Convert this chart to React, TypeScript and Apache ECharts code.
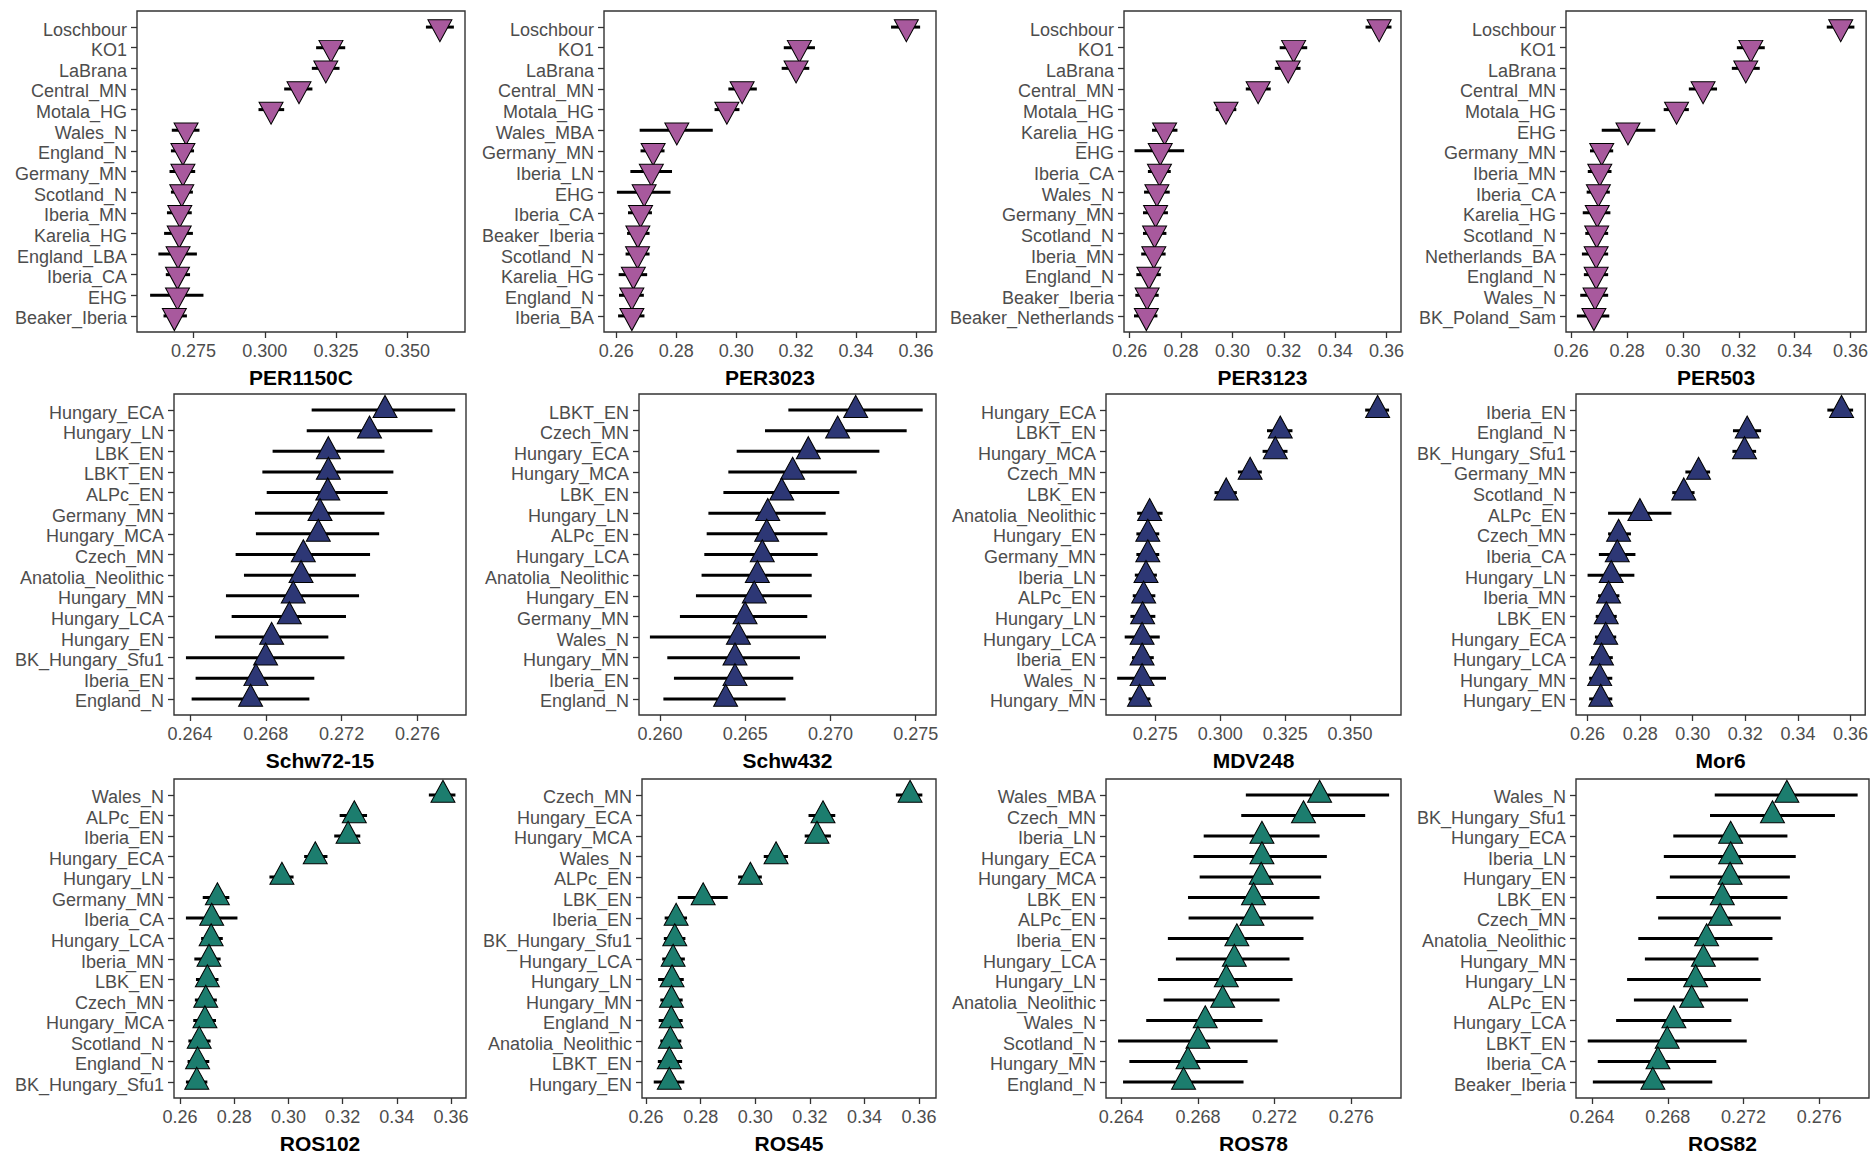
import React, { useEffect, useRef } from "react";
import * as echarts from "echarts";

// ---------- DATA ----------
const per1150cGroups = ["Loschbour","KO1","LaBrana","Central_MN","Motala_HG","Wales_N","England_N","Germany_MN","Scotland_N","Iberia_MN","Karelia_HG","England_LBA","Iberia_CA","EHG","Beaker_Iberia"];
const per1150cMean = [0.3614,0.3232,0.3214,0.3120,0.3022,0.2724,0.2713,0.2713,0.2709,0.2702,0.2700,0.2696,0.2694,0.2694,0.2683];
const per1150cLow = [0.3565,0.3180,0.3165,0.3068,0.2978,0.2674,0.2671,0.2666,0.2671,0.2657,0.2647,0.2627,0.2653,0.2598,0.2645];
const per1150cHigh = [0.3663,0.3282,0.3262,0.3167,0.3068,0.2771,0.2752,0.2756,0.2748,0.2744,0.2748,0.2762,0.2738,0.2785,0.2727];

const per3023Groups = ["Loschbour","KO1","LaBrana","Central_MN","Motala_HG","Wales_MBA","Germany_MN","Iberia_LN","EHG","Iberia_CA","Beaker_Iberia","Scotland_N","Karelia_HG","England_N","Iberia_BA"];
const per3023Mean = [0.3568,0.3211,0.3200,0.3020,0.2969,0.2802,0.2723,0.2717,0.2693,0.2681,0.2672,0.2671,0.2657,0.2652,0.2652];
const per3023Low = [0.3517,0.3159,0.3152,0.2974,0.2928,0.2678,0.2681,0.2647,0.2602,0.2639,0.2636,0.2631,0.2608,0.2609,0.2606];
const per3023High = [0.3614,0.3263,0.3244,0.3069,0.3011,0.2922,0.2761,0.2786,0.2781,0.2719,0.2711,0.2711,0.2703,0.2692,0.2694];

const per3123Groups = ["Loschbour","KO1","LaBrana","Central_MN","Motala_HG","Karelia_HG","EHG","Iberia_CA","Wales_N","Germany_MN","Scotland_N","Iberia_MN","England_N","Beaker_Iberia","Beaker_Netherlands"];
const per3123Mean = [0.3571,0.3238,0.3217,0.3100,0.2975,0.2736,0.2719,0.2716,0.2706,0.2701,0.2697,0.2694,0.2675,0.2668,0.2665];
const per3123Low = [0.3518,0.3184,0.3165,0.3052,0.2935,0.2687,0.2619,0.2671,0.2656,0.2652,0.2652,0.2645,0.2626,0.2622,0.2617];
const per3123High = [0.3619,0.3291,0.3265,0.3149,0.3015,0.2786,0.2812,0.2760,0.2756,0.2749,0.2743,0.2740,0.2721,0.2713,0.2708];

const per503Groups = ["Loschbour","KO1","LaBrana","Central_MN","Motala_HG","EHG","Germany_MN","Iberia_MN","Iberia_CA","Karelia_HG","Scotland_N","Netherlands_BA","England_N","Wales_N","BK_Poland_Sam"];
const per503Mean = [0.3565,0.3243,0.3225,0.3072,0.2977,0.2803,0.2709,0.2702,0.2697,0.2693,0.2691,0.2689,0.2689,0.2685,0.2681];
const per503Low = [0.3515,0.3193,0.3175,0.3021,0.2931,0.2709,0.2667,0.2659,0.2655,0.2641,0.2650,0.2638,0.2645,0.2632,0.2620];
const per503High = [0.3614,0.3293,0.3275,0.3122,0.3021,0.2901,0.2750,0.2744,0.2738,0.2740,0.2732,0.2732,0.2732,0.2732,0.2736];

const schw7215Groups = ["Hungary_ECA","Hungary_LN","LBK_EN","LBKT_EN","ALPc_EN","Germany_MN","Hungary_MCA","Czech_MN","Anatolia_Neolithic","Hungary_MN","Hungary_LCA","Hungary_EN","BK_Hungary_Sfu1","Iberia_EN","England_N"];
const schw7215Mean = [0.27429,0.27347,0.27130,0.27130,0.27127,0.27086,0.27077,0.26998,0.26986,0.26945,0.26924,0.26831,0.26799,0.26748,0.26720];
const schw7215Low = [0.27042,0.27016,0.26836,0.26782,0.26805,0.26743,0.26748,0.26641,0.26685,0.26590,0.26620,0.26532,0.26379,0.26430,0.26409];
const schw7215High = [0.27799,0.27679,0.27426,0.27473,0.27443,0.27426,0.27398,0.27350,0.27275,0.27292,0.27223,0.27130,0.27215,0.27056,0.27030];

const schw432Groups = ["LBKT_EN","Czech_MN","Hungary_ECA","Hungary_MCA","LBK_EN","Hungary_LN","ALPc_EN","Hungary_LCA","Anatolia_Neolithic","Hungary_EN","Germany_MN","Wales_N","Hungary_MN","Iberia_EN","England_N"];
const schw432Mean = [0.27148,0.27042,0.26870,0.26778,0.26714,0.26632,0.26626,0.26600,0.26571,0.26553,0.26499,0.26460,0.26440,0.26440,0.26385];
const schw432Low = [0.26753,0.26616,0.26450,0.26401,0.26372,0.26284,0.26274,0.26260,0.26244,0.26211,0.26117,0.25941,0.26043,0.26082,0.26020];
const schw432High = [0.27541,0.27447,0.27287,0.27154,0.27052,0.26972,0.26982,0.26925,0.26890,0.26890,0.26864,0.26974,0.26821,0.26782,0.26737];

const mdv248Groups = ["Hungary_ECA","LBKT_EN","Hungary_MCA","Czech_MN","LBK_EN","Anatolia_Neolithic","Hungary_EN","Germany_MN","Iberia_LN","ALPc_EN","Hungary_LN","Hungary_LCA","Iberia_EN","Wales_N","Hungary_MN"];
const mdv248Mean = [0.3606,0.3231,0.3212,0.3115,0.3023,0.2728,0.2721,0.2721,0.2714,0.2705,0.2701,0.2699,0.2699,0.2699,0.2689];
const mdv248Low = [0.3558,0.3180,0.3163,0.3068,0.2978,0.2680,0.2677,0.2677,0.2671,0.2663,0.2654,0.2632,0.2660,0.2603,0.2647];
const mdv248High = [0.3650,0.3278,0.3259,0.3160,0.3064,0.2778,0.2765,0.2765,0.2756,0.2750,0.2750,0.2767,0.2744,0.2791,0.2731];

const mor6Groups = ["Iberia_EN","England_N","BK_Hungary_Sfu1","Germany_MN","Scotland_N","ALPc_EN","Czech_MN","Iberia_CA","Hungary_LN","Iberia_MN","LBK_EN","Hungary_ECA","Hungary_LCA","Hungary_MN","Hungary_EN"];
const mor6Mean = [0.3566,0.3207,0.3197,0.3022,0.2966,0.2799,0.2718,0.2713,0.2690,0.2680,0.2671,0.2669,0.2653,0.2646,0.2650];
const mor6Low = [0.3512,0.3153,0.3151,0.2972,0.2922,0.2678,0.2678,0.2643,0.2600,0.2640,0.2631,0.2628,0.2613,0.2606,0.2606];
const mor6High = [0.3610,0.3260,0.3241,0.3066,0.3007,0.2919,0.2765,0.2782,0.2778,0.2721,0.2711,0.2709,0.2696,0.2694,0.2694];

const ros102Groups = ["Wales_N","ALPc_EN","Iberia_EN","Hungary_ECA","Hungary_LN","Germany_MN","Iberia_CA","Hungary_LCA","Iberia_MN","LBK_EN","Czech_MN","Hungary_MCA","Scotland_N","England_N","BK_Hungary_Sfu1"];
const ros102Mean = [0.3570,0.3243,0.3220,0.3099,0.2976,0.2738,0.2717,0.2715,0.2707,0.2701,0.2695,0.2692,0.2671,0.2665,0.2662];
const ros102Low = [0.3518,0.3189,0.3169,0.3058,0.2930,0.2684,0.2622,0.2678,0.2653,0.2659,0.2655,0.2649,0.2631,0.2628,0.2622];
const ros102High = [0.3616,0.3290,0.3265,0.3144,0.3019,0.2782,0.2812,0.2758,0.2750,0.2742,0.2736,0.2733,0.2713,0.2708,0.2701];

const ros45Groups = ["Czech_MN","Hungary_ECA","Hungary_MCA","Wales_N","ALPc_EN","LBK_EN","Iberia_EN","BK_Hungary_Sfu1","Hungary_LCA","Hungary_LN","Hungary_MN","England_N","Anatolia_Neolithic","LBKT_EN","Hungary_EN"];
const ros45Mean = [0.3567,0.3248,0.3226,0.3076,0.2982,0.2809,0.2710,0.2705,0.2699,0.2695,0.2693,0.2692,0.2689,0.2685,0.2685];
const ros45Low = [0.3515,0.3195,0.3181,0.3031,0.2937,0.2716,0.2668,0.2665,0.2659,0.2644,0.2652,0.2646,0.2652,0.2643,0.2628];
const ros45High = [0.3612,0.3293,0.3277,0.3120,0.3024,0.2899,0.2750,0.2744,0.2742,0.2738,0.2734,0.2734,0.2729,0.2732,0.2740];

const ros78Groups = ["Wales_MBA","Czech_MN","Iberia_LN","Hungary_ECA","Hungary_MCA","LBK_EN","ALPc_EN","Iberia_EN","Hungary_LCA","Hungary_LN","Anatolia_Neolithic","Wales_N","Scotland_N","Hungary_MN","England_N"];
const ros78Mean = [0.27435,0.27351,0.27134,0.27134,0.27130,0.27090,0.27082,0.27003,0.26990,0.26948,0.26929,0.26838,0.26800,0.26748,0.26725];
const ros78Low = [0.27050,0.27026,0.26830,0.26777,0.26809,0.26748,0.26751,0.26643,0.26685,0.26591,0.26621,0.26530,0.26383,0.26442,0.26409];
const ros78High = [0.27798,0.27673,0.27435,0.27473,0.27443,0.27435,0.27403,0.27351,0.27278,0.27294,0.27226,0.27137,0.27216,0.27059,0.27038];

const ros82Groups = ["Wales_N","BK_Hungary_Sfu1","Hungary_ECA","Iberia_LN","Hungary_EN","LBK_EN","Czech_MN","Anatolia_Neolithic","Hungary_MN","Hungary_LN","ALPc_EN","Hungary_LCA","LBKT_EN","Iberia_CA","Beaker_Iberia"];
const ros82Mean = [0.27429,0.27353,0.27132,0.27132,0.27129,0.27088,0.27076,0.27005,0.26988,0.26947,0.26926,0.26832,0.26797,0.26748,0.26721];
const ros82Low = [0.27048,0.27023,0.26829,0.26779,0.26811,0.26739,0.26749,0.26644,0.26679,0.26585,0.26621,0.26527,0.26377,0.26430,0.26404];
const ros82High = [0.27803,0.27683,0.27432,0.27476,0.27445,0.27432,0.27397,0.27353,0.27279,0.27291,0.27224,0.27136,0.27217,0.27056,0.27035];

const panelTitles = ["PER1150C","PER3023","PER3123","PER503","Schw72-15","Schw432","MDV248","Mor6","ROS102","ROS45","ROS78","ROS82"];

const ticksA = [0.275, 0.3, 0.325, 0.35];
const ticksB = [0.26, 0.28, 0.3, 0.32, 0.34, 0.36];
const ticksC = [0.264, 0.268, 0.272, 0.276];
const ticksD = [0.26, 0.265, 0.27, 0.275];

// ---------- LAYOUT / STYLE ----------
const W = 1871;
const H = 1157;
const COLORS = ["#A8599D", "#2D3775", "#1C7D6E"];
const FONT = "'Liberation Sans', Arial, Helvetica, sans-serif";
const TEXT = "#4D4D4D";
const AXIS = "#333333";

type Panel = {
  title: string; groups: string[]; mean: number[]; low: number[]; high: number[];
  min: number; max: number; ticks: number[]; dec: number;
  left: number; right: number; row: number;
};

const rowBox = [
  { top: 11, bottom: 332 },
  { top: 394, bottom: 715 },
  { top: 779, bottom: 1098 },
];

const panels: Panel[] = [
  { title: panelTitles[0], groups: per1150cGroups, mean: per1150cMean, low: per1150cLow, high: per1150cHigh, min: 0.2552, max: 0.3702, ticks: ticksA, dec: 3, left: 137, right: 465, row: 0 },
  { title: panelTitles[1], groups: per3023Groups, mean: per3023Mean, low: per3023Low, high: per3023High, min: 0.2559, max: 0.3667, ticks: ticksB, dec: 2, left: 604, right: 936, row: 0 },
  { title: panelTitles[2], groups: per3123Groups, mean: per3123Mean, low: per3123Low, high: per3123High, min: 0.2578, max: 0.3656, ticks: ticksB, dec: 2, left: 1124, right: 1401, row: 0 },
  { title: panelTitles[3], groups: per503Groups, mean: per503Mean, low: per503Low, high: per503High, min: 0.2581, max: 0.3656, ticks: ticksB, dec: 2, left: 1566, right: 1869, row: 0 },
  { title: panelTitles[4], groups: schw7215Groups, mean: schw7215Mean, low: schw7215Low, high: schw7215High, min: 0.26316, max: 0.27856, ticks: ticksC, dec: 3, left: 174, right: 466, row: 1 },
  { title: panelTitles[5], groups: schw432Groups, mean: schw432Mean, low: schw432Low, high: schw432High, min: 0.25877, max: 0.27619, ticks: ticksD, dec: 3, left: 639, right: 936, row: 1 },
  { title: panelTitles[6], groups: mdv248Groups, mean: mdv248Mean, low: mdv248Low, high: mdv248High, min: 0.2560, max: 0.3696, ticks: ticksA, dec: 3, left: 1106, right: 1401, row: 1 },
  { title: panelTitles[7], groups: mor6Groups, mean: mor6Mean, low: mor6Low, high: mor6High, min: 0.2556, max: 0.3656, ticks: ticksB, dec: 2, left: 1576, right: 1869, row: 1 },
  { title: panelTitles[8], groups: ros102Groups, mean: ros102Mean, low: ros102Low, high: ros102High, min: 0.2578, max: 0.3655, ticks: ticksB, dec: 2, left: 174, right: 466, row: 2 },
  { title: panelTitles[9], groups: ros45Groups, mean: ros45Mean, low: ros45Low, high: ros45High, min: 0.2585, max: 0.3662, ticks: ticksB, dec: 2, left: 642, right: 936, row: 2 },
  { title: panelTitles[10], groups: ros78Groups, mean: ros78Mean, low: ros78Low, high: ros78High, min: 0.2632, max: 0.2786, ticks: ticksC, dec: 3, left: 1106, right: 1401, row: 2 },
  { title: panelTitles[11], groups: ros82Groups, mean: ros82Mean, low: ros82Low, high: ros82High, min: 0.26315, max: 0.27863, ticks: ticksC, dec: 3, left: 1576, right: 1869, row: 2 },
];

const DOWN_TRI = "path://M0,0 L20,0 L10,18 Z";
const SYM_W = 24;
const SYM_H = 22;

function buildOption() {
  const grid: any[] = [];
  const xAxis: any[] = [];
  const yAxis: any[] = [];
  const series: any[] = [];
  panels.forEach((p, i) => {
    const rb = rowBox[p.row];
    grid.push({
      left: p.left, top: rb.top, width: p.right - p.left, height: rb.bottom - rb.top,
      show: true, borderColor: AXIS, borderWidth: 1.4, backgroundColor: "transparent",
      containLabel: false,
    });
    xAxis.push({
      type: "value", gridIndex: i, min: p.min, max: p.max, position: "bottom",
      axisLine: { show: false, onZero: false },
      splitLine: { show: false },
      axisTick: { show: true, length: 6, inside: false, customValues: p.ticks, lineStyle: { color: AXIS, width: 1.3 } },
      axisLabel: {
        show: true, customValues: p.ticks, margin: 10, color: TEXT, fontSize: 18, fontFamily: FONT,
        formatter: (v: number) => v.toFixed(p.dec),
      },
      name: p.title, nameLocation: "middle", nameGap: 35,
      nameTextStyle: { color: "#000", fontSize: 21, fontWeight: "bold", fontFamily: FONT },
    });
    const idx = p.groups.map((_, k) => k);
    yAxis.push({
      type: "value", gridIndex: i, min: -0.78, max: p.groups.length - 1 + 0.78, inverse: true,
      position: "left",
      axisLine: { show: false, onZero: false },
      splitLine: { show: false },
      axisTick: { show: true, length: 6, inside: false, customValues: idx, lineStyle: { color: AXIS, width: 1.3 } },
      axisLabel: {
        show: true, customValues: idx, margin: 10, color: TEXT, fontSize: 18, fontFamily: FONT,
        formatter: (v: number) => "{g|" + (p.groups[Math.round(v)] ?? "") + "}",
        rich: {
          g: { color: TEXT, fontSize: 18, fontFamily: FONT, padding: [5, 0, 0, 0] },
        },
      },
    });
    const color = COLORS[p.row];
    series.push({
      type: "custom", xAxisIndex: i, yAxisIndex: i, z: 2,
      data: p.groups.map((_, k) => [k, p.low[k], p.high[k]]),
      encode: { x: [1, 2], y: 0 },
      renderItem: (params: any, api: any) => {
        const a = api.coord([api.value(1), api.value(0)]);
        const b = api.coord([api.value(2), api.value(0)]);
        return {
          type: "line",
          shape: { x1: a[0], y1: a[1], x2: b[0], y2: b[1] },
          style: { stroke: "#000", lineWidth: 3, lineCap: "butt" },
        };
      },
    });
    const down = p.row === 0;
    series.push({
      type: "scatter", xAxisIndex: i, yAxisIndex: i, z: 3,
      data: p.groups.map((_, k) => [p.mean[k], k]),
      symbol: down ? DOWN_TRI : "triangle",
      symbolSize: [SYM_W, SYM_H],
      symbolOffset: [0, down ? SYM_H / 6 : -SYM_H / 6],
      itemStyle: { color, borderColor: "#000", borderWidth: 1, opacity: 1 },
      emphasis: { disabled: true },
    });
  });
  return {
    animation: false,
    backgroundColor: "#ffffff",
    textStyle: { fontFamily: FONT },
    grid, xAxis, yAxis, series,
  };
}

export default function App() {
  const ref = useRef<HTMLDivElement>(null);
  useEffect(() => {
    if (!ref.current) return;
    const chart = echarts.init(ref.current, undefined, { renderer: "svg", width: W, height: H });
    chart.setOption(buildOption() as any);
    return () => chart.dispose();
  }, []);
  return (
    <div
      ref={ref}
      style={{ position: "fixed", left: 0, top: 0, width: W, height: H, background: "#fff" }}
    />
  );
}
